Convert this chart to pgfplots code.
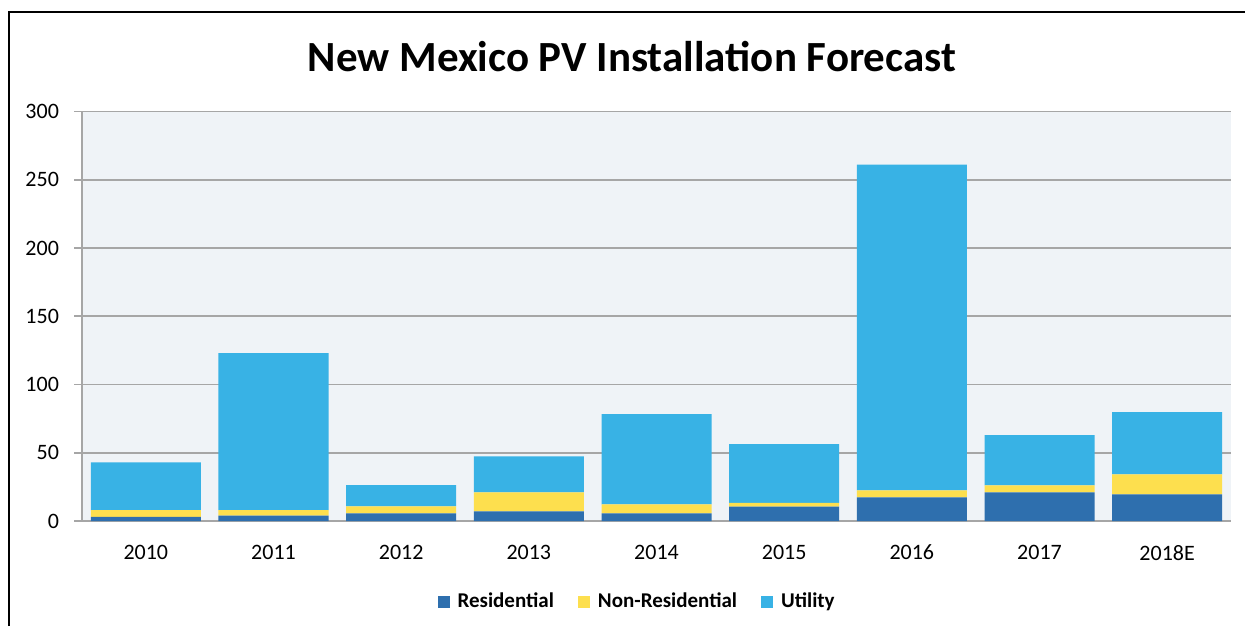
\documentclass[border=0pt]{standalone}
\usepackage{pgfplots}
\pgfplotsset{compat=1.18}
\usepackage{pgfplotstable}
\usepackage{fontspec}
\setmainfont{Carlito}
\definecolor{res}{HTML}{2E6FAE}
\definecolor{nonres}{HTML}{FDDF4E}
\definecolor{util}{HTML}{38B2E5}
\definecolor{plotbg}{HTML}{EFF3F7}
\definecolor{gridc}{HTML}{A6A6A6}
\pgfplotstableread{
x res nonres util
0 3 5 35
1 4 4 115
2 5.6 5.1 15.6
3 7 14 26.3
4 5.6 6.5 66.2
5 10.5 2.7 43.1
6 17.3 5.1 238.6
7 21 5.1 36.8
8 19.5 14.7 45.5
}\datatable
\begin{document}
\begin{tikzpicture}[x=1pt,y=1pt]
\path[use as bounding box] (0,0) rectangle (622.5,313);
\draw[line width=1pt,black] (4.5,0) -- (4.5,307) -- (622.5,307);
\node[font=\fontsize{21.5}{23}\selectfont\bfseries] at (316,284.5) {New Mexico PV Installation Forecast};
\begin{axis}[
  at={(41pt,52.5pt)}, anchor=south west,
  scale only axis, width=574.5pt, height=204.75pt,
  ybar stacked, bar width=55pt,
  xmin=-0.5, xmax=8.5, ymin=0, ymax=300,
  xtick={0,...,8},
  xticklabels={2010,2011,2012,2013,2014,2015,2016,2017,2018E},
  extra x ticks={-0.5,0.5,1.5,2.5,3.5,4.5,5.5,6.5,7.5,8.5},
  extra x tick labels={},
  extra x tick style={major tick length=4pt, tick style={gridc, line width=0.8pt}},
  ytick={0,50,...,300},
  ymajorgrids,
  grid style={gridc, line width=0.9pt},
  tick align=outside,
  x tick style={draw=none},
  y tick style={gridc, line width=0.8pt},
  major tick length=4pt,
  axis x line*=bottom, axis y line*=left,
  axis line style={gridc, line width=0.9pt, -},
  axis background/.style={fill=plotbg},
  tick label style={font=\fontsize{11}{12}\selectfont, /pgf/number format/assume math mode=true},
  xticklabel style={yshift=-4.5pt},
  yticklabel style={xshift=-4pt},
  legend columns=-1,
  legend style={at={(0.484,-0.198)}, anchor=center, draw=none, fill=none,
    font=\fontsize{10.5}{12}\selectfont\bfseries,
    /tikz/every odd column/.append style={column sep=2pt},
    /tikz/every even column/.append style={column sep=10pt}},
  legend image code/.code={\fill[#1] (0pt,-3pt) rectangle (6pt,3pt);},
]
\addplot[fill=res, draw=none] table[x=x, y=res] {\datatable};
\addplot[fill=nonres, draw=none] table[x=x, y=nonres] {\datatable};
\addplot[fill=util, draw=none] table[x=x, y=util] {\datatable};
\legend{Residential, Non-Residential, Utility}
\end{axis}
\end{tikzpicture}
\end{document}
